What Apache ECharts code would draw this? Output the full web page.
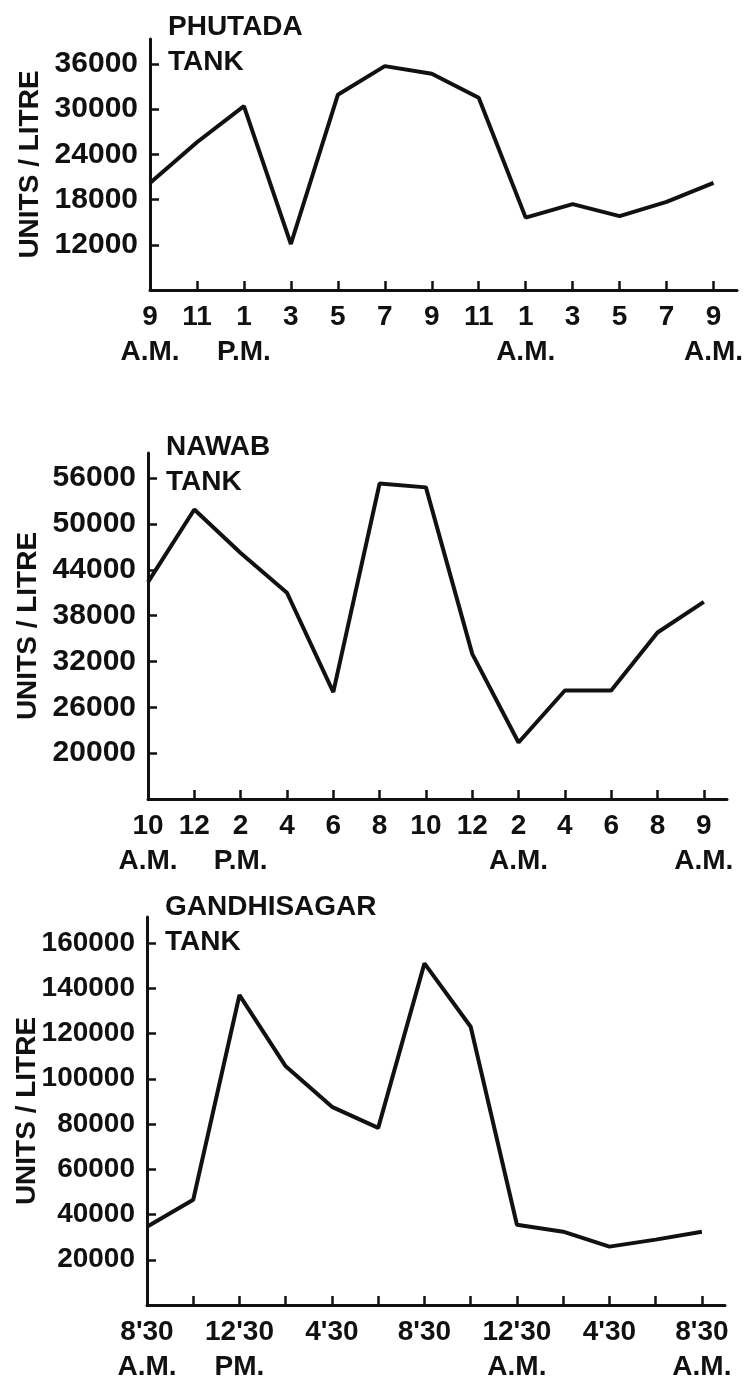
<!DOCTYPE html>
<html>
<head>
<meta charset="utf-8">
<script src="https://cdn.jsdelivr.net/npm/echarts@6/dist/echarts.min.js"></script>
<style>
html,body{margin:0;padding:0;background:#fff;}
#chart{width:747px;height:1379px;}
</style>
</head>
<body>
<div id="chart"></div>
<script>
// ---- Data ----
const phutadaTitle = "PHUTADA\nTANK";
const phutadaHours = ["9","11","1","3","5","7","9","11","1","3","5","7","9"];
const phutadaPeriods = ["A.M.","","P.M.","","","","","","A.M.","","","","A.M."];
const phutadaValues = [20200, 25600, 30400, 12100, 31900, 35700, 34700, 31500, 15600, 17400, 15800, 17700, 20200];
const phutadaTicks = [12000, 18000, 24000, 30000, 36000];

const nawabTitle = "NAWAB\nTANK";
const nawabHours = ["10","12","2","4","6","8","10","12","2","4","6","8","9"];
const nawabPeriods = ["A.M.","","P.M.","","","","","","A.M.","","","","A.M."];
const nawabValues = [42400, 51900, 46200, 41000, 28000, 55300, 54800, 33000, 21400, 28200, 28200, 35800, 39800];
const nawabTicks = [20000, 26000, 32000, 38000, 44000, 50000, 56000];

const gandhiTitle = "GANDHISAGAR\nTANK";
const gandhiHours = ["8'30","","12'30","","4'30","","8'30","","12'30","","4'30","","8'30"];
const gandhiPeriods = ["A.M.","","PM.","","","","","","A.M.","","","","A.M."];
const gandhiValues = [34600, 46500, 137000, 105500, 87600, 78300, 151000, 123000, 35500, 32400, 25800, 28900, 32400];
const gandhiTicks = [20000, 40000, 60000, 80000, 100000, 120000, 140000, 160000];

const yName = "UNITS / LITRE";

// ---- Build ----
const FONT = "Liberation Sans";
const INK = "#111";
const panels = [
  {title: phutadaTitle, hours: phutadaHours, periods: phutadaPeriods, values: phutadaValues, ticks: phutadaTicks,
   grid: {left: 150, top: 39, width: 587, height: 251}, yMin: 6000, yMax: 39300, titleTop: 5, yFont: 30},
  {title: nawabTitle, hours: nawabHours, periods: nawabPeriods, values: nawabValues, ticks: nawabTicks,
   grid: {left: 148, top: 453, width: 579, height: 346}, yMin: 14000, yMax: 59300, titleTop: 425, yFont: 30},
  {title: gandhiTitle, hours: gandhiHours, periods: gandhiPeriods, values: gandhiValues, ticks: gandhiTicks,
   grid: {left: 147, top: 917, width: 578, height: 388}, yMin: 0, yMax: 171500, titleTop: 885, yFont: 28}
];

const option = {
  backgroundColor: "#fff",
  animation: false,
  title: [], grid: [], xAxis: [], yAxis: [], series: []
};

panels.forEach((p, i) => {
  const idx = p.hours.map((_, k) => k);
  option.title.push({
    text: p.title, left: p.grid.left + 13, top: p.titleTop,
    textStyle: {fontFamily: FONT, fontWeight: "bold", fontSize: 28, lineHeight: 35, color: INK}
  });
  option.grid.push(Object.assign({containLabel: false, outerBoundsMode: "none"}, p.grid));
  option.xAxis.push({
    type: "value", gridIndex: i, min: 0, max: 12.5,
    axisLine: {show: true, onZero: false, lineStyle: {color: INK, width: 3}},
    axisTick: {show: true, inside: true, length: 9, customValues: idx, lineStyle: {color: INK, width: 2.5}},
    splitLine: {show: false},
    axisLabel: {
      customValues: idx, margin: 10, color: INK, fontFamily: FONT, fontWeight: "bold",
      fontSize: 28, lineHeight: 35, align: "center",
      formatter: (v) => {
        const k = Math.round(v);
        const h = p.hours[k] || "";
        const per = p.periods[k] || "";
        return per ? h + "\n" + per : h;
      }
    }
  });
  option.yAxis.push({
    type: "value", gridIndex: i, min: p.yMin, max: p.yMax,
    name: yName, nameLocation: "middle", nameRotate: 90, nameGap: 106, nameMoveOverlap: false,
    nameTextStyle: {fontFamily: FONT, fontWeight: "bold", fontSize: 28, color: INK},
    axisLine: {show: true, onZero: false, lineStyle: {color: INK, width: 3}},
    axisTick: {show: true, inside: true, length: 9, customValues: p.ticks, lineStyle: {color: INK, width: 2.5}},
    splitLine: {show: false},
    axisLabel: {customValues: p.ticks, margin: 12, color: INK, fontFamily: FONT, fontWeight: "bold",
      fontSize: p.yFont, formatter: (v) => String(v)}
  });
  option.series.push({
    type: "line", xAxisIndex: i, yAxisIndex: i,
    data: p.values.map((v, k) => [idx[k], v]),
    showSymbol: false, symbol: "none",
    lineStyle: {color: INK, width: 4}
  });
});

const chart = echarts.init(document.getElementById("chart"), null, {renderer: "canvas", width: 747, height: 1379});
chart.setOption(option);
</script>
</body>
</html>
